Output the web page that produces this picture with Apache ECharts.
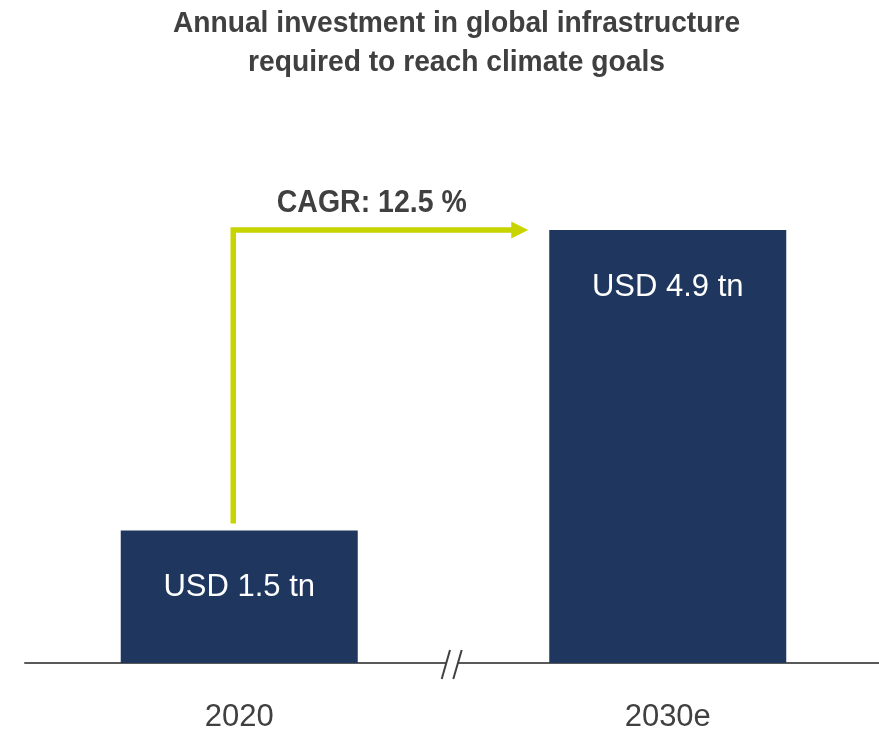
<!DOCTYPE html>
<html>
<head>
<meta charset="utf-8">
<script src="https://cdn.jsdelivr.net/npm/echarts@6/dist/echarts.min.js"></script>
<style>
  html, body { margin: 0; padding: 0; background: #ffffff; }
  #chart { width: 879px; height: 734px; }
</style>
</head>
<body>
<div id="chart"></div>
<script>
// Annual infrastructure investment (USD trillion)
const categories = ['2020', '2030e'];
const investment = [1.5, 4.9];
const valueLabels = ['USD 1.5 tn', 'USD 4.9 tn'];
const cagrLabel = 'CAGR: 12.5 %';
const titleLines = ['Annual investment in global infrastructure', 'required to reach climate goals'];

const FONT = '"Liberation Sans", Arial, Helvetica, sans-serif';
const NAVY = '#1f375f';
const LIME = '#c8d400';
const TEXT = '#404040';
const BAR_WIDTH = 237;

const chart = echarts.init(document.getElementById('chart'), null, { renderer: 'canvas' });

chart.setOption({
  animation: false,
  backgroundColor: '#ffffff',
  grid: { left: 25, width: 857, top: 230, bottom: 71, outerBoundsMode: 'none' },
  xAxis: {
    type: 'category',
    data: categories,
    axisLine: { show: true, lineStyle: { color: '#595959', width: 2 } },
    axisTick: { show: false },
    axisLabel: {
      margin: 39,
      fontFamily: FONT,
      fontSize: 31,
      color: TEXT
    }
  },
  yAxis: {
    type: 'value',
    min: 0,
    max: 4.9,
    show: false,
    splitLine: { show: false }
  },
  series: [{
    type: 'bar',
    data: investment,
    barWidth: BAR_WIDTH,
    itemStyle: { color: NAVY },
    label: {
      show: true,
      position: 'insideTop',
      distance: 42,
      formatter: p => valueLabels[p.dataIndex],
      fontFamily: FONT,
      fontSize: 31,
      color: '#ffffff'
    }
  }]
});

// Title, growth arrow, CAGR label and axis-break marks, placed from the chart's own scales
function drawOverlays() {
  const p0 = chart.convertToPixel({ seriesIndex: 0 }, [0, investment[0]]);
  const p1 = chart.convertToPixel({ seriesIndex: 0 }, [1, investment[1]]);
  const base = chart.convertToPixel({ seriesIndex: 0 }, [0, 0]);
  const halfBar = BAR_WIDTH / 2;
  const centerX = chart.getWidth() / 2 + 17;

  const ax = p0[0] - 6;
  const yStart = p0[1] - 7;
  const yTop = p1[1];
  const xTip = p1[0] - halfBar - 21;
  const headLen = 17;
  const midX = (p0[0] + p1[0]) / 2;

  const titleText = (txt, y) => ({
    type: 'text',
    x: centerX,
    y: y,
    scaleX: 0.94,
    style: {
      text: txt,
      align: 'center',
      verticalAlign: 'middle',
      font: 'bold 30px ' + FONT,
      fill: TEXT
    },
    z: 10
  });

  chart.setOption({
    graphic: [
      titleText(titleLines[0], 24),
      titleText(titleLines[1], 63),
      {
        type: 'polyline',
        shape: { points: [[ax, yStart], [ax, yTop], [xTip - headLen + 2, yTop]] },
        style: { stroke: LIME, lineWidth: 5.5, fill: null, lineJoin: 'miter', lineCap: 'butt' },
        z: 10
      },
      {
        type: 'polygon',
        shape: { points: [[xTip - headLen, yTop - 8.5], [xTip, yTop], [xTip - headLen, yTop + 8.5]] },
        style: { fill: LIME },
        z: 10
      },
      {
        type: 'text',
        x: (ax + xTip) / 2 - 9,
        y: yTop - 27,
        scaleX: 0.89,
        style: {
          text: cagrLabel,
          align: 'center',
          verticalAlign: 'middle',
          font: 'bold 32px ' + FONT,
          fill: TEXT
        },
        z: 10
      },
      // gap in the axis line with two slanted break strokes
      {
        type: 'rect',
        shape: { x: midX - 7.5, y: base[1] - 3, width: 11.5, height: 6 },
        style: { fill: '#ffffff' },
        z: 20
      },
      {
        type: 'line',
        shape: { x1: midX - 11.8, y1: base[1] + 16, x2: midX - 3.5, y2: base[1] - 13 },
        style: { stroke: '#404040', lineWidth: 2 },
        z: 21
      },
      {
        type: 'line',
        shape: { x1: midX - 0.2, y1: base[1] + 16, x2: midX + 8.2, y2: base[1] - 13 },
        style: { stroke: '#404040', lineWidth: 2 },
        z: 21
      }
    ]
  });
}

drawOverlays();
</script>
</body>
</html>
